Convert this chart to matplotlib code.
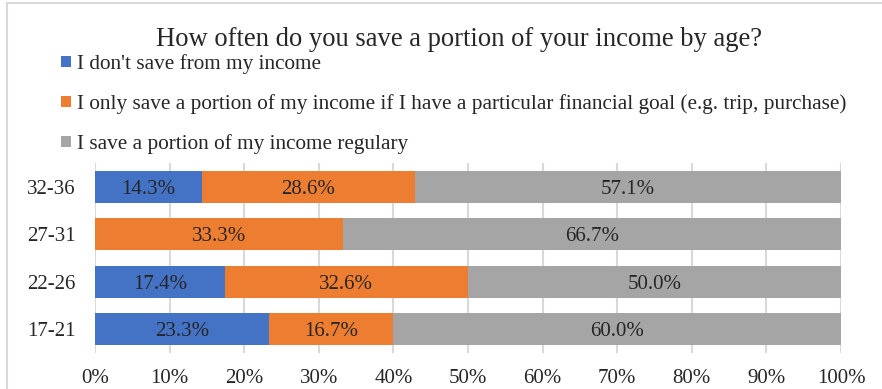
import matplotlib
matplotlib.use("Agg")
import matplotlib.pyplot as plt
from matplotlib.patches import Rectangle

# data
ages = ["17-21", "22-26", "27-31", "32-36"]
dont_save = [23.3, 17.4, 0.0, 14.3]
goal_save = [16.7, 32.6, 33.3, 28.6]
regular_save = [60.0, 50.0, 66.7, 57.1]
series_labels = [
    "I don't save from my income",
    "I only save a portion of my income if I have a particular financial goal (e.g. trip, purchase)",
    "I save a portion of my income regulary",
]
colors = ["#4472C4", "#ED7D31", "#A5A5A5"]

plt.rcParams["font.family"] = ["Liberation Serif", "DejaVu Serif"]

fig = plt.figure(figsize=(8.82, 3.89), dpi=100)
# chart border (right edge runs off the picture)
fig.patches.append(Rectangle((7 / 882, -0.1), 1.1, 1.1 - 3 / 389, transform=fig.transFigure,
                             fill=False, edgecolor="#D9D9D9", linewidth=1.5))

ax = fig.add_axes([95 / 882, 1 - 352.7 / 389, (841 - 95) / 882, (352.7 - 163.3) / 389])

y = list(range(len(ages)))
left = [0.0] * len(ages)
for vals, lab, col in zip([dont_save, goal_save, regular_save], series_labels, colors):
    bars = ax.barh(y, vals, left=left, height=0.67, color=col, label=lab, zorder=2)
    for b, v, l in zip(bars, vals, left):
        if v > 0:
            ax.text(l + v / 2, b.get_y() + b.get_height() / 2, "%.1f%%" % v,
                    ha="center", va="center_baseline", fontsize=15, color="#262626", zorder=3)
    left = [a + b for a, b in zip(left, vals)]

ax.set_xlim(0, 100)
ax.set_ylim(-0.5, 3.5)
ax.set_yticks(y)
ax.set_yticklabels(ages, fontsize=15, color="#262626")
ax.set_xticks(range(0, 101, 10))
ax.set_xticklabels(["%d%%" % t for t in range(0, 101, 10)], fontsize=15, color="#262626")
ax.tick_params(length=0)
ax.tick_params(axis="y", pad=14)
ax.tick_params(axis="x", pad=12)
ax.grid(axis="x", color="#D9D9D9", linewidth=1.5, zorder=0)
for s in ax.spines.values():
    s.set_visible(False)

fig.text(0.52, 1 - 39 / 389, "How often do you save a portion of your income by age?",
         ha="center", va="center", fontsize=19.2, color="#262626")

leg = ax.legend(loc="upper left", bbox_to_anchor=(61 / 882, 1 - 54 / 389),
                bbox_transform=fig.transFigure, frameon=False, fontsize=15.3,
                handlelength=0.45, handleheight=0.45, handletextpad=0.3,
                labelspacing=0.95, borderaxespad=0, borderpad=0)
for t in leg.get_texts():
    t.set_color("#262626")

fig.savefig("out.png", dpi=100)
